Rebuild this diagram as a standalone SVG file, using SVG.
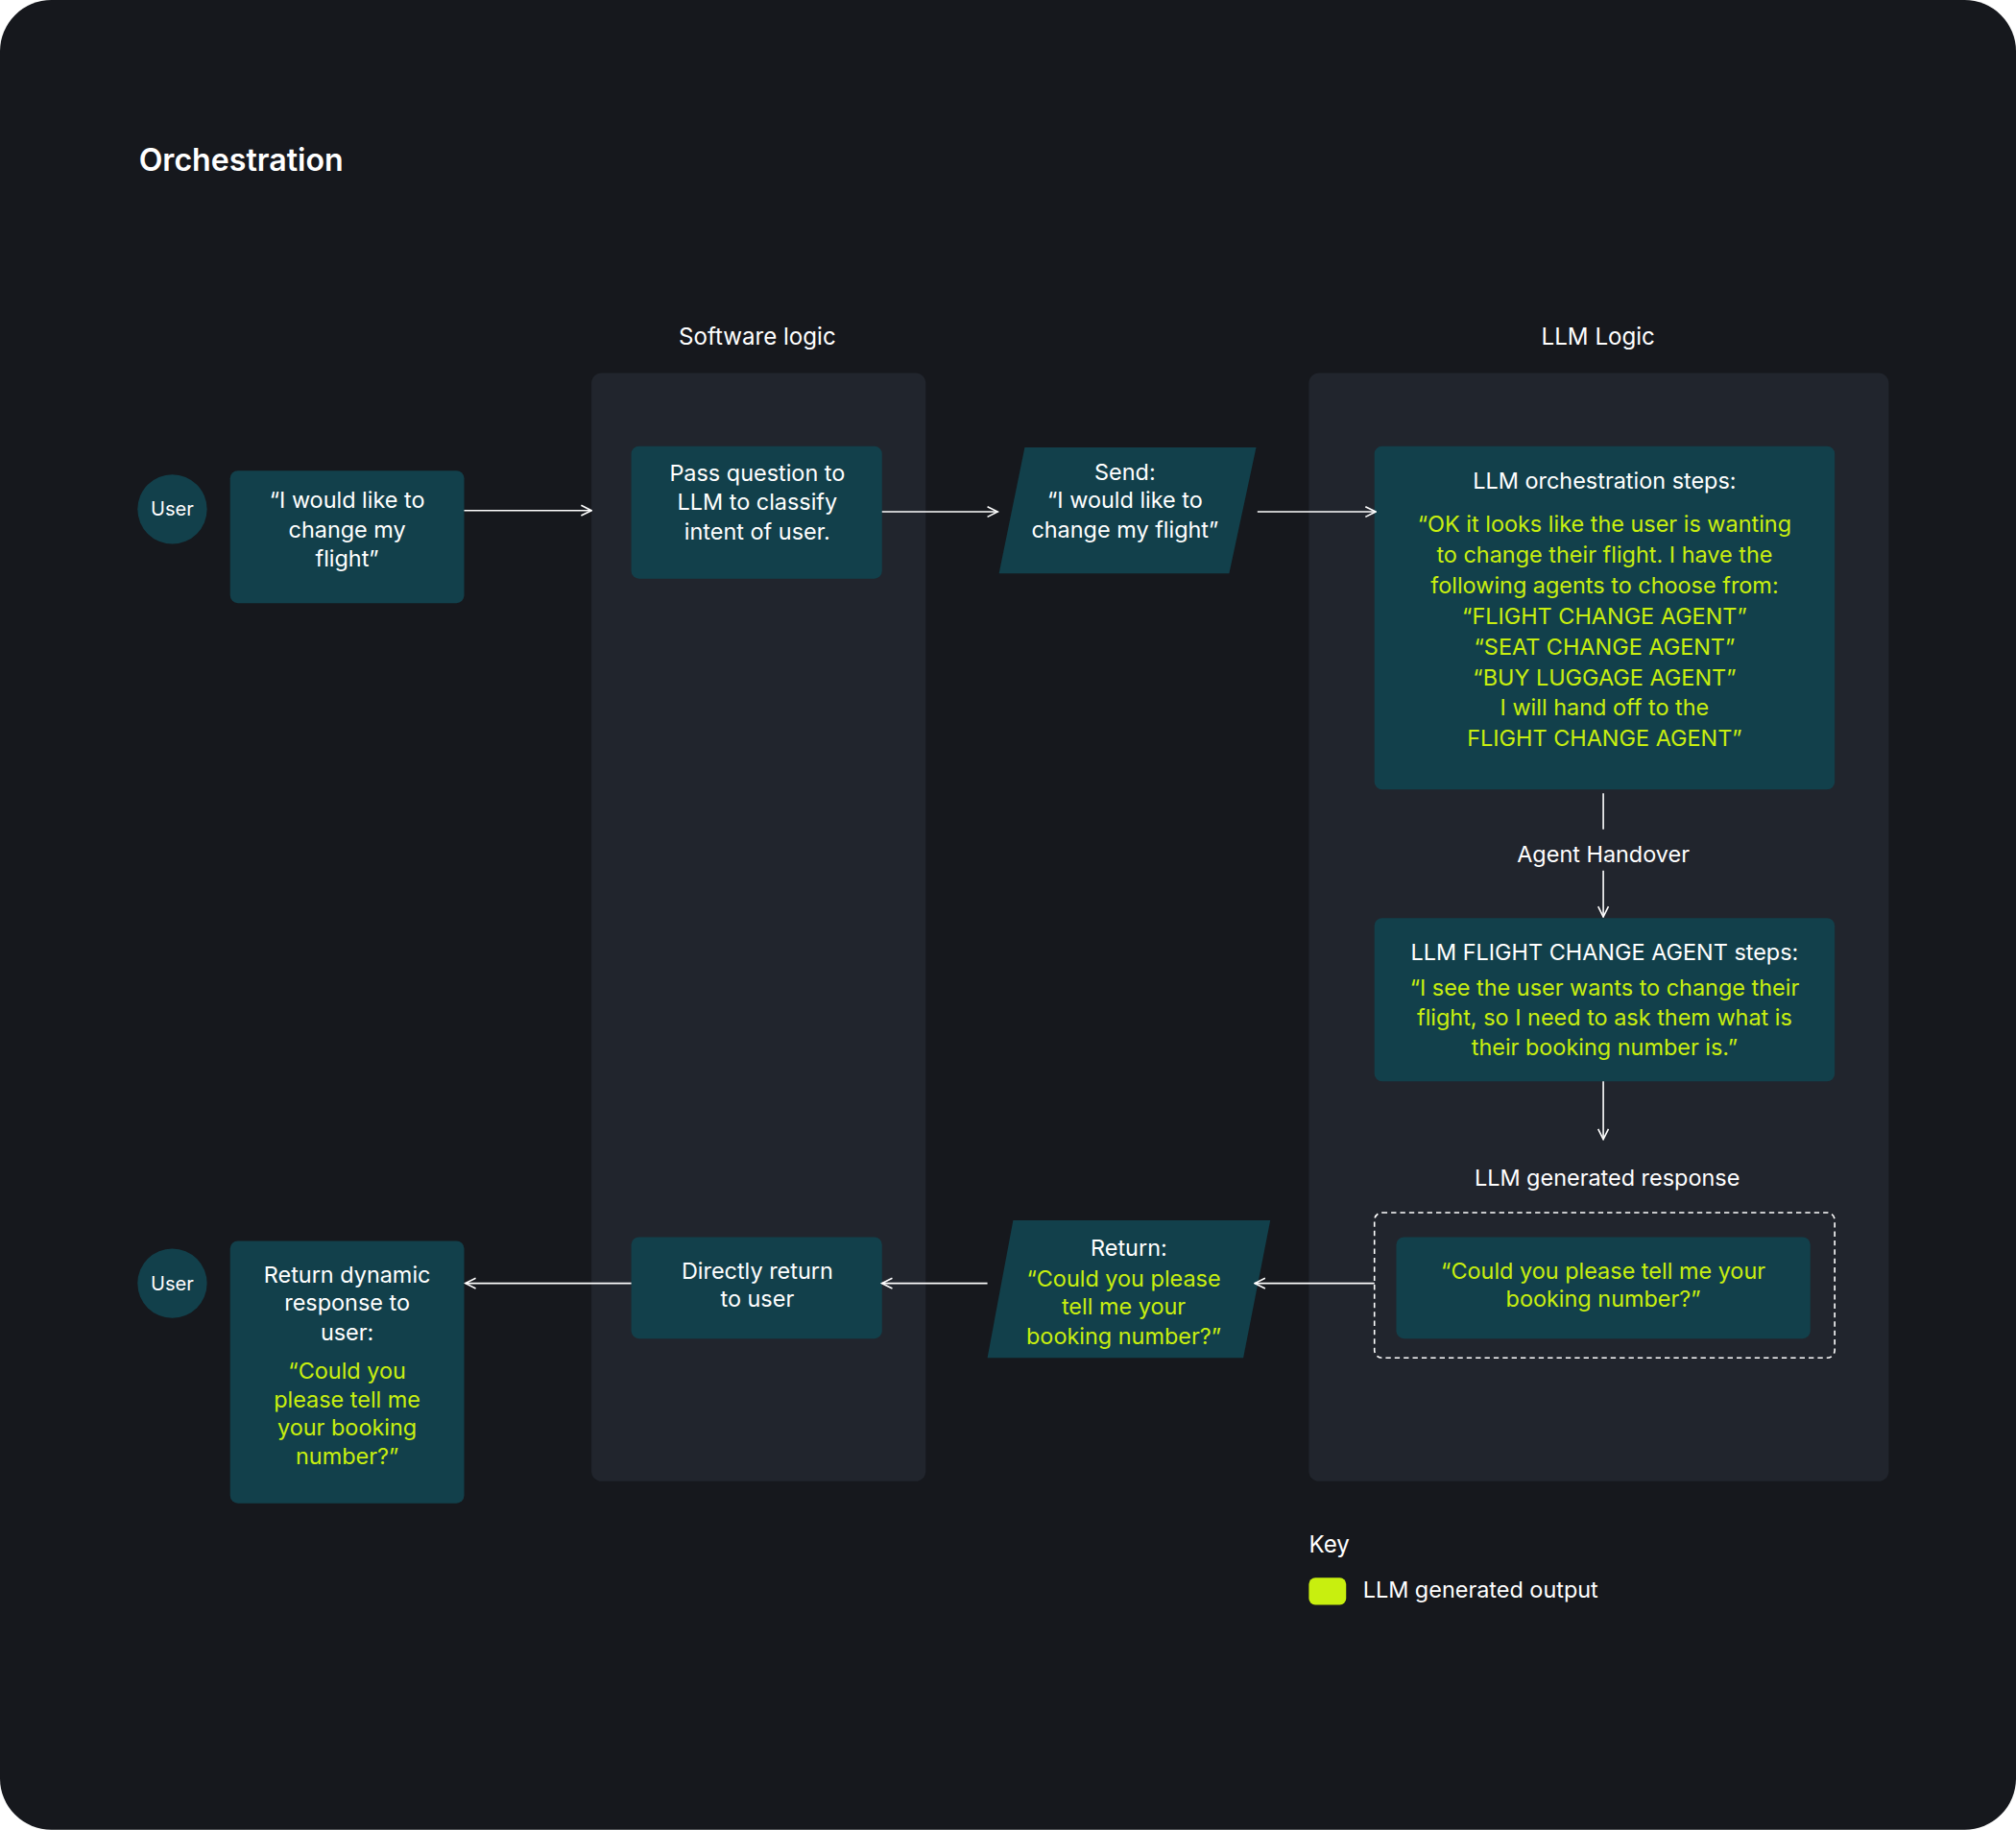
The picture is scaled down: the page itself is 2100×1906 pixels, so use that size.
<svg xmlns="http://www.w3.org/2000/svg" width="2100" height="1906" viewBox="0 0 2100 1906">
<style>
text{font-family:Inter,"Liberation Sans",sans-serif;fill:#ffffff;font-size:17.5px;text-anchor:middle;dominant-baseline:central}
.g{fill:#c8ef0f}
.n{fill:#12404b}
.c{stroke:#ffffff;stroke-width:1.2;fill:none}
</style>
<defs>
<marker id="a" viewBox="0 0 10 10" refX="9" refY="5" markerWidth="10" markerHeight="10" markerUnits="userSpaceOnUse" orient="auto">
<path d="M1,1 L9,5 L1,9" fill="none" stroke="#ffffff" stroke-width="1.2"/>
</marker>
</defs>
<rect width="2100" height="1906" fill="#ffffff"/>
<g transform="scale(1.33929)">
<rect x="0" y="0" width="1568" height="1423" rx="40" fill="#16181d"/>
<text x="108" y="124" style="text-anchor:start;font-size:24px;font-weight:600">Orchestration</text>
<g id="software-panel"><rect x="460" y="290" width="260" height="862" rx="8" fill="#21252d"/><text x="589" y="262" style="font-size:18px">Software logic</text></g>
<g id="llm-panel"><rect x="1018" y="290" width="451" height="862" rx="8" fill="#21252d"/><text x="1243" y="262" style="font-size:18px">LLM Logic</text></g>

<g id="user1"><circle cx="134" cy="396" r="27" class="n"/><text x="134" y="396" style="font-size:15px">User</text></g>
<g id="q1"><rect x="179" y="366" width="182" height="103" rx="6" class="n"/><text x="270" y="389">“I would like to</text><text x="270" y="412">change my</text><text x="270" y="434">flight”</text></g>
<g id="pass"><rect x="491" y="347" width="195" height="103" rx="6" class="n"/><text x="589" y="368">Pass question to</text><text x="589" y="390">LLM to classify</text><text x="589" y="413">intent of user.</text></g>
<g id="send"><polygon points="797,348 977,348 956,446 777,446" class="n"/><text x="875" y="367">Send:</text><text x="875" y="389">“I would like to</text><text x="875" y="412">change my flight”</text></g>
<g id="orch"><rect x="1069" y="347" width="358" height="267" rx="6" class="n"/><text x="1248" y="374">LLM orchestration steps:</text>
<text class="g" x="1248" y="407">“OK it looks like the user is wanting</text>
<text class="g" x="1248" y="431">to change their flight. I have the</text>
<text class="g" x="1248" y="455">following agents to choose from:</text>
<text class="g" x="1248" y="479">“FLIGHT CHANGE AGENT”</text>
<text class="g" x="1248" y="503">“SEAT CHANGE AGENT”</text>
<text class="g" x="1248" y="527">“BUY LUGGAGE AGENT”</text>
<text class="g" x="1248" y="550">I will hand off to the</text>
<text class="g" x="1248" y="574">FLIGHT CHANGE AGENT”</text></g>
<g id="agent"><rect x="1069" y="714" width="358" height="127" rx="6" class="n"/><text x="1248" y="740">LLM FLIGHT CHANGE AGENT steps:</text>
<text class="g" x="1248" y="768">“I see the user wants to change their</text>
<text class="g" x="1248" y="791">flight, so I need to ask them what is</text>
<text class="g" x="1248" y="814">their booking number is.”</text></g>
<g id="response"><text x="1250" y="916">LLM generated response</text><rect x="1069" y="943" width="358" height="113" rx="6" fill="none" stroke="#ffffff" stroke-width="1.2" stroke-dasharray="4,3"/>
<rect x="1086" y="962" width="322" height="79" rx="6" class="n"/><text class="g" x="1247" y="988">“Could you please tell me your</text><text class="g" x="1247" y="1010">booking number?”</text></g>
<g id="return"><polygon points="788,949 988,949 967,1056 768,1056" class="n"/><text x="878" y="970">Return:</text><text class="g" x="874" y="994">“Could you please</text><text class="g" x="874" y="1016">tell me your</text><text class="g" x="874" y="1039">booking number?”</text></g>
<g id="direct"><rect x="491" y="962" width="195" height="79" rx="6" class="n"/><text x="589" y="988">Directly return</text><text x="589" y="1010">to user</text></g>
<g id="final"><rect x="179" y="965" width="182" height="204" rx="6" class="n"/><text x="270" y="991">Return dynamic</text><text x="270" y="1013">response to</text><text x="270" y="1036">user:</text>
<text class="g" x="270" y="1066">“Could you</text><text class="g" x="270" y="1088">please tell me</text><text class="g" x="270" y="1110">your booking</text><text class="g" x="270" y="1132">number?”</text></g>
<g id="user2"><circle cx="134" cy="998" r="27" class="n"/><text x="134" y="998" style="font-size:15px">User</text></g>

<g id="connectors">
<line class="c" x1="361" y1="397" x2="460" y2="397" marker-end="url(#a)"/>
<line class="c" x1="686" y1="398" x2="776" y2="398" marker-end="url(#a)"/>
<line class="c" x1="978" y1="398" x2="1070" y2="398" marker-end="url(#a)"/>
<line class="c" x1="1247" y1="617" x2="1247" y2="645"/>
<text x="1247" y="664">Agent Handover</text>
<line class="c" x1="1247" y1="677" x2="1247" y2="713" marker-end="url(#a)"/>
<line class="c" x1="1247" y1="841" x2="1247" y2="886" marker-end="url(#a)"/>
<line class="c" x1="1069" y1="998" x2="976" y2="998" marker-end="url(#a)"/>
<line class="c" x1="768" y1="998" x2="686" y2="998" marker-end="url(#a)"/>
<line class="c" x1="491" y1="998" x2="362" y2="998" marker-end="url(#a)"/>
</g>
<g id="key"><text x="1018" y="1201" style="text-anchor:start;font-size:18px">Key</text><rect x="1018" y="1227" width="29" height="21" rx="5" fill="#c8ef0f"/><text x="1060" y="1236" style="text-anchor:start">LLM generated output</text></g>
</g>
</svg>
